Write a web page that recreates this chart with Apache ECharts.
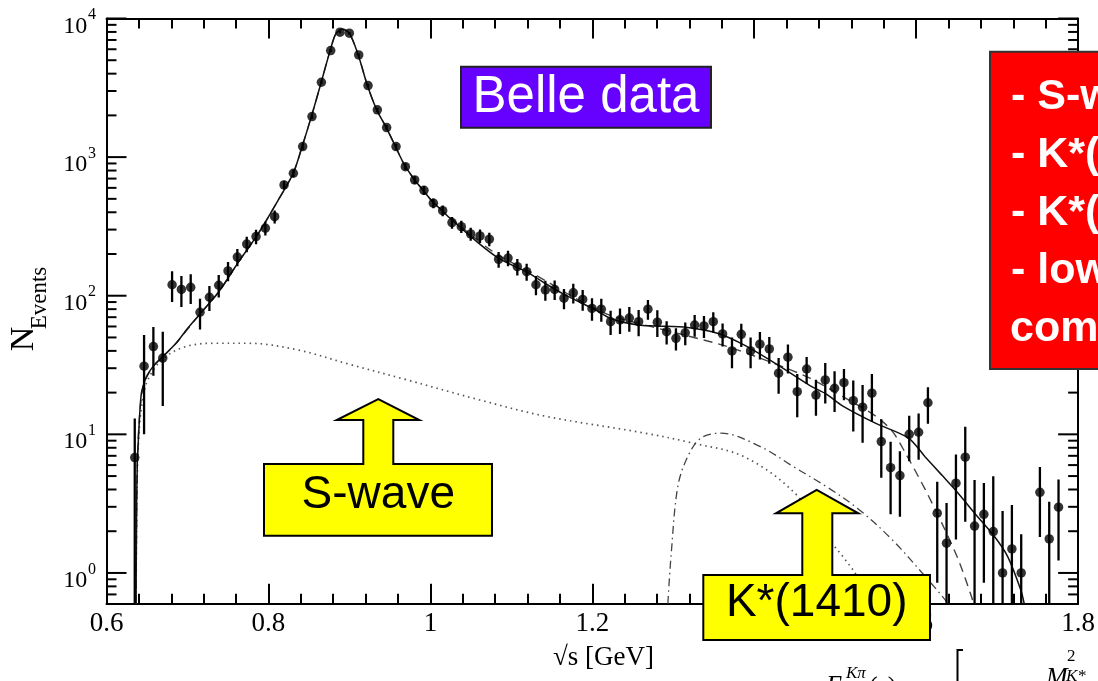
<!DOCTYPE html>
<html>
<head>
<meta charset="utf-8">
<script src="https://cdn.jsdelivr.net/npm/echarts@6/dist/echarts.min.js"></script>
<style>
html,body{margin:0;padding:0;background:#fff;}
#chart{width:1098px;height:681px;}
</style>
</head>
<body>
<div id="chart"></div>
<script>
// ---- data points (sqrt(s) in GeV, events, symmetric error) ----
const dataX = [0.6349,0.6464,0.6579,0.6695,0.6810,0.6925,0.7040,0.7155,0.7271,0.7386,0.7501,0.7616,0.7732,0.7847,0.7962,0.8077,0.8193,0.8308,0.8423,0.8538,0.8654,0.8769,0.8884,0.8999,0.9115,0.9230,0.9345,0.9460,0.9576,0.9691,0.9806,0.9921,1.0037,1.0152,1.0267,1.0382,1.0498,1.0613,1.0728,1.0843,1.0959,1.1074,1.1189,1.1304,1.1420,1.1535,1.1650,1.1765,1.1881,1.1996,1.2111,1.2226,1.2342,1.2457,1.2572,1.2687,1.2803,1.2918,1.3033,1.3148,1.3264,1.3379,1.3494,1.3609,1.3725,1.3840,1.3955,1.4070,1.4186,1.4301,1.4416,1.4531,1.4647,1.4762,1.4877,1.4992,1.5108,1.5223,1.5338,1.5453,1.5569,1.5684,1.5799,1.5914,1.6030,1.6145,1.6260,1.6375,1.6491,1.6606,1.6721,1.6836,1.6952,1.7067,1.7182,1.7297,1.7528,1.7643,1.7758];
const dataY = [6.8,31,43,35.5,120,111,115,76,97.5,119,151,190,236,267,307,372,630,765,1191,1960,3468,5867,7962,7830,5461,3280,2193,1634,1191,853,684,576,465,411,337,315,279,270,256,183,187,162,149,120,110,111,96,105,94,81,80,65,67,69,65,80,64.4,55,49.3,54,61.5,60.5,65,53,40,52.7,40,44.7,41.3,27.6,36,20.3,29.6,19.2,24.7,21.5,23.6,17.5,15.7,19.8,8.86,5.75,5.04,10.0,10.35,16.9,2.70,1.64,4.44,6.84,2.18,2.65,1.99,1.0,1.49,1.0,3.82,1.76,2.98];
const dataErr = [6.2,21,16.5,19.5,30,28,28,19,20,22,24,27,30,32,35,40,45,50,60,75,100,130,150,150,125,100,80,70,60,50,45,42,38,36,33,32,30,30,29,24,24,22,21,19,18,18,16,17,16,15,15,13,14,14,14,13,14,10.5,9,10,11,11,11,10,10,10,10,10,9,8,8.5,7,6.5,5.6,8,7,6,7,7,7.5,4,3.1,2.5,3.6,3.8,5,1.85,1.55,2.7,4.5,2.5,1.8,3.0,1.8,1.6,0.9,2.0,1.5,1.75];

// ---- full fit (solid) ----
const fitX = [0.6365,0.6372,0.6380,0.6389,0.6410,0.6431,0.6460,0.6492,0.6573,0.6695,0.6859,0.7000,0.7144,0.7388,0.7633,0.7878,0.8122,0.8306,0.8416,0.8530,0.8652,0.8762,0.8836,0.8917,0.8999,0.9109,0.9223,0.9337,0.9456,0.9569,0.9684,0.9802,0.9917,1.0031,1.0406,1.0816,1.1221,1.1425,1.1629,1.2037,1.2241,1.2566,1.2771,1.3178,1.3545,1.3872,1.4279,1.4688,1.4891,1.5095,1.5502,1.5905,1.6109,1.6314,1.6518,1.6722,1.6967,1.7130,1.7293,1.7334];
const fitY = [0.6,3,6,8,14,19.8,23,26,30.8,36.4,45.4,58,72.7,107,176,283,491,765,1191,1960,3468,5867,7830,8360,7830,5461,3280,2193,1634,1191,870,690,570,475,298,191,145,122,104,79,68,61.5,60.5,59,53.6,44.2,32,22.5,19.5,16,12,9.4,6.9,5.1,3.76,2.7,1.83,1.31,0.75,0.6];

// ---- alternative fit (dashed) ----
const altX = [0.6365,0.6380,0.6410,0.6460,0.6573,0.6695,0.6859,0.7144,0.7388,0.7633,0.7878,0.8122,0.8306,0.8416,0.8530,0.8652,0.8762,0.8836,0.8917,0.8999,0.9109,0.9223,0.9337,0.9456,0.9569,0.9684,0.9802,0.9917,1.0031,1.0406,1.0816,1.1221,1.1425,1.1833,1.2241,1.2649,1.3178,1.3667,1.4239,1.4688,1.5095,1.5502,1.5706,1.5869,1.6114,1.6318,1.6522,1.6685,1.6705];
const altY = [0.6,6,14,23,30.8,36.4,45.4,72.7,107,176,283,491,765,1191,1960,3468,5867,7830,8360,7830,5461,3280,2193,1634,1191,870,690,570,475,305,200,150,128,93,71.5,61.5,51.3,43,32.6,25.4,18.7,13.5,10.5,7.3,3.97,2.28,1.24,0.67,0.6];

// ---- S-wave component (dotted) ----
const sWaveX = [0.6365,0.6380,0.6410,0.6450,0.6510,0.6695,0.6981,0.7348,0.7755,0.8366,0.9000,0.9713,1.0610,1.1425,1.2649,1.3260,1.3872,1.4483,1.4891,1.5095,1.5299,1.5421];
const sWaveY = [0.6,5,12,18,24.7,35,43,45.4,45.4,40.6,32,24.7,17.7,13.5,10.2,8.6,6.9,3.86,1.83,1.31,0.89,0.6];

// ---- K*(1410) component (dash-dot) ----
const k1410X = [1.2933,1.2975,1.3056,1.3178,1.3342,1.3587,1.4076,1.4483,1.4890,1.5299,1.5706,1.6114,1.6358,1.6390];
const k1410Y = [0.6,1.39,4.2,6.9,9.4,10.2,8.15,5.85,4.2,2.85,1.73,0.94,0.64,0.6];

// ---- axes ticks / labels ----
const xTickLabels = ['0.6','0.8','1','1.2','1.4','1.6','1.8'];
const yMajorTicks = [1,10,100,1000,10000];
const yTickExps = ['0','1','2','3','4'];
const yMinorTicks = [0.7,0.8,0.9,2,3,4,5,6,7,8,9,20,30,40,50,60,70,80,90,200,300,400,500,600,700,800,900,2000,3000,4000,5000,6000,7000,8000,9000];

const X_MIN = 0.6, X_MAX = 1.8, Y_MIN = 0.6, Y_MAX = 10000;
const serif = '"Liberation Serif","Times New Roman",serif';
const sans = '"Liberation Sans",Arial,sans-serif';

function pairs(xs, ys){ return xs.map((x,i)=>[x, ys[i]]); }

function tickRenderer(len){
  return function(params, api){
    const v = api.value(1);
    const l = api.coord([X_MIN, v]);
    const r = api.coord([X_MAX, v]);
    return {type:'group', children:[
      {type:'line', shape:{x1:l[0], y1:l[1], x2:l[0]+len, y2:l[1]}, style:{stroke:'#000', lineWidth:2}},
      {type:'line', shape:{x1:r[0], y1:r[1], x2:r[0]-len, y2:r[1]}, style:{stroke:'#000', lineWidth:2}}
    ]};
  };
}

const chart = echarts.init(document.getElementById('chart'), null, {renderer:'canvas'});

const xAxisCommon = {
  type:'value', min:X_MIN, max:X_MAX, interval:0.2,
  axisLine:{show:true, onZero:false, lineStyle:{color:'#000', width:2}},
  axisTick:{show:true, inside:true, length:20, lineStyle:{color:'#000', width:2}},
  minorTick:{show:true, splitNumber:5, length:10, lineStyle:{color:'#000', width:2}},
  splitLine:{show:false}, minorSplitLine:{show:false}
};

const yAxisCommon = {
  type:'log', logBase:10, min:Y_MIN, max:Y_MAX,
  axisLine:{show:true, lineStyle:{color:'#000', width:2}},
  axisTick:{show:false}, axisLabel:{show:false}, splitLine:{show:false}, minorTick:{show:false}
};

const option = {
  backgroundColor:'#fff',
  animation:false,
  grid:{left:106.5, top:18.5, right:10.3, bottom:77.3, containLabel:false},
  xAxis:[
    Object.assign({}, xAxisCommon, {position:'bottom',
      axisLabel:{show:true, margin:20.5, verticalAlign:'middle', color:'#000', fontFamily:serif, fontSize:27,
        formatter:function(v, i){ return xTickLabels[i] !== undefined ? xTickLabels[i] : ''; }}}),
    Object.assign({}, xAxisCommon, {position:'top', axisLabel:{show:false}})
  ],
  yAxis:[
    Object.assign({}, yAxisCommon, {position:'left'}),
    Object.assign({}, yAxisCommon, {position:'right'})
  ],
  series:[
    {type:'line', name:'S-wave', data:pairs(sWaveX, sWaveY), showSymbol:false, smooth:0.35,
      lineStyle:{color:'#555', width:1.7, type:[1.5,4]}, z:3},
    {type:'line', name:'K*(1410)', data:pairs(k1410X, k1410Y), showSymbol:false, smooth:0.35,
      lineStyle:{color:'#444', width:1.3, type:[8,4,1.5,4]}, z:3},
    {type:'line', name:'alt fit', data:pairs(altX, altY), showSymbol:false, smooth:0.3,
      lineStyle:{color:'#444', width:1.4, type:[9,6]}, z:4},
    {type:'line', name:'fit', data:pairs(fitX, fitY), showSymbol:false, smooth:0.3,
      lineStyle:{color:'#111', width:1.5}, z:5},
    {type:'custom', name:'errors', data:dataX.map((x,i)=>[x, dataY[i], dataErr[i]]),
      encode:{x:0, y:1}, z:6, clip:true,
      renderItem:function(params, api){
        const x = api.value(0), y = api.value(1), e = api.value(2);
        const lo = Math.max(y - e, Y_MIN), hi = Math.min(y + e, Y_MAX);
        const a = api.coord([x, lo]), b = api.coord([x, hi]);
        return {type:'line', shape:{x1:a[0], y1:a[1], x2:b[0], y2:b[1]}, style:{stroke:'#000', lineWidth:2.3}};
      }},
    {type:'scatter', name:'Belle data', data:pairs(dataX, dataY), symbol:'circle', symbolSize:9.5,
      itemStyle:{color:'#000'}, z:7},
    {type:'custom', name:'yMajor', data:yMajorTicks.map(v=>[X_MIN, v]), encode:{x:0,y:1}, z:8, silent:true,
      renderItem:tickRenderer(20)},
    {type:'custom', name:'yMinor', data:yMinorTicks.map(v=>[X_MIN, v]), encode:{x:0,y:1}, z:8, silent:true,
      renderItem:tickRenderer(10)},
    {type:'custom', name:'yLabels', data:yMajorTicks.map(v=>[X_MIN, v]), encode:{x:0,y:1}, z:8, silent:true,
      renderItem:function(params, api){
        const p = api.coord([X_MIN, api.value(1)]);
        const exp = yTickExps[params.dataIndex];
        return {type:'group', children:[
          {type:'text', x:p[0]-19.2, y:p[1]+7.8, style:{text:'10', font:'24px '+serif, fill:'#000',
            align:'right', verticalAlign:'middle', textAlign:'right', textVerticalAlign:'middle'}},
          {type:'text', x:p[0]-18.5, y:p[1]-3.6, style:{text:exp, font:'16px '+serif, fill:'#000',
            align:'left', verticalAlign:'middle', textAlign:'left', textVerticalAlign:'middle'}}
        ]};
      }}
  ],
  graphic:[
    // axis titles
    {type:'text', x:24.2, y:339, rotation:Math.PI/2, z:50,
      style:{text:'N', font:'34px '+serif, fill:'#000', align:'center', verticalAlign:'middle', textAlign:'center', textVerticalAlign:'middle'}},
    {type:'text', x:39.8, y:298, rotation:Math.PI/2, z:50,
      style:{text:'Events', font:'23px '+serif, fill:'#000', align:'center', verticalAlign:'middle', textAlign:'center', textVerticalAlign:'middle'}},
    {type:'text', x:603.5, y:658, z:50,
      style:{text:'\u221As [GeV]', font:'27px '+serif, fill:'#000', align:'center', verticalAlign:'middle', textAlign:'center', textVerticalAlign:'middle'}},
    // Belle data label
    {type:'rect', shape:{x:461, y:66.7, width:250, height:61}, z:100,
      style:{fill:'#6600FF', stroke:'#222', lineWidth:2}},
    {type:'text', x:586, y:97.5, z:101,
      style:{text:'Belle data', font:'51px '+sans, fill:'#fff', align:'center', verticalAlign:'middle', textAlign:'center', textVerticalAlign:'middle'}},
    // red box
    {type:'rect', shape:{x:990, y:51.7, width:200, height:317.3}, z:100,
      style:{fill:'#FF0000', stroke:'#333', lineWidth:2}},
    {type:'text', x:1011, y:97.5, z:101, style:{text:'- S-wave', font:'bold 43px '+sans, fill:'#fff', align:'left', verticalAlign:'middle', textAlign:'left', textVerticalAlign:'middle'}},
    {type:'text', x:1011, y:155.3, z:101, style:{text:'- K*(892)', font:'bold 43px '+sans, fill:'#fff', align:'left', verticalAlign:'middle', textAlign:'left', textVerticalAlign:'middle'}},
    {type:'text', x:1011, y:213, z:101, style:{text:'- K*(1410)', font:'bold 43px '+sans, fill:'#fff', align:'left', verticalAlign:'middle', textAlign:'left', textVerticalAlign:'middle'}},
    {type:'text', x:1011, y:271, z:101, style:{text:'- low-energy', font:'bold 43px '+sans, fill:'#fff', align:'left', verticalAlign:'middle', textAlign:'left', textVerticalAlign:'middle'}},
    {type:'text', x:1010, y:329, z:101, style:{text:'components', font:'bold 43px '+sans, fill:'#fff', align:'left', verticalAlign:'middle', textAlign:'left', textVerticalAlign:'middle'}},
    // S-wave callout
    {type:'polygon', z:100, shape:{points:[[264,464],[363.3,464],[363.3,420],[336.7,420],[378.3,399],[419.3,420],[393.3,420],[393.3,464],[492,464],[492,535.7],[264,535.7]]},
      style:{fill:'#FFFF00', stroke:'#000', lineWidth:2}},
    {type:'text', x:378.3, y:495.5, z:101,
      style:{text:'S-wave', font:'46px '+sans, fill:'#000', align:'center', verticalAlign:'middle', textAlign:'center', textVerticalAlign:'middle'}},
    // K*(1410) callout
    {type:'polygon', z:100, shape:{points:[[703.3,575],[802.3,575],[802.3,513.3],[776,513.3],[816.7,490],[858.3,513.3],[832.3,513.3],[832.3,575],[930,575],[930,640],[703.3,640]]},
      style:{fill:'#FFFF00', stroke:'#000', lineWidth:2}},
    {type:'text', x:816.7, y:603, z:101,
      style:{text:'K*(1410)', font:'46px '+sans, fill:'#000', align:'center', verticalAlign:'middle', textAlign:'center', textVerticalAlign:'middle'}},
    // cut-off formula fragments at bottom
    {type:'text', x:826, y:686, z:50, style:{text:'\u0393', font:'italic 26px '+serif, fill:'#000', align:'left', verticalAlign:'middle', textAlign:'left', textVerticalAlign:'middle'}},
    {type:'text', x:846, y:674, z:50, style:{text:'K\u03C0', font:'italic 17px '+serif, fill:'#000', align:'left', verticalAlign:'middle', textAlign:'left', textVerticalAlign:'middle'}},
    {type:'text', x:869, y:687, z:50, style:{text:'(s)', font:'26px '+serif, fill:'#000', align:'left', verticalAlign:'middle', textAlign:'left', textVerticalAlign:'middle'}},
    {type:'polyline', z:50, shape:{points:[[963,650],[957.5,650],[957.5,700]]}, style:{stroke:'#000', lineWidth:2, fill:null}},
    {type:'text', x:1046, y:678, z:50, style:{text:'M', font:'italic 26px '+serif, fill:'#000', align:'left', verticalAlign:'middle', textAlign:'left', textVerticalAlign:'middle'}},
    {type:'text', x:1067, y:657, z:50, style:{text:'2', font:'17px '+serif, fill:'#000', align:'left', verticalAlign:'middle', textAlign:'left', textVerticalAlign:'middle'}},
    {type:'text', x:1066, y:677, z:50, style:{text:'K*', font:'italic 17px '+serif, fill:'#000', align:'left', verticalAlign:'middle', textAlign:'left', textVerticalAlign:'middle'}}
  ]
};

chart.setOption(option);
</script>
</body>
</html>
